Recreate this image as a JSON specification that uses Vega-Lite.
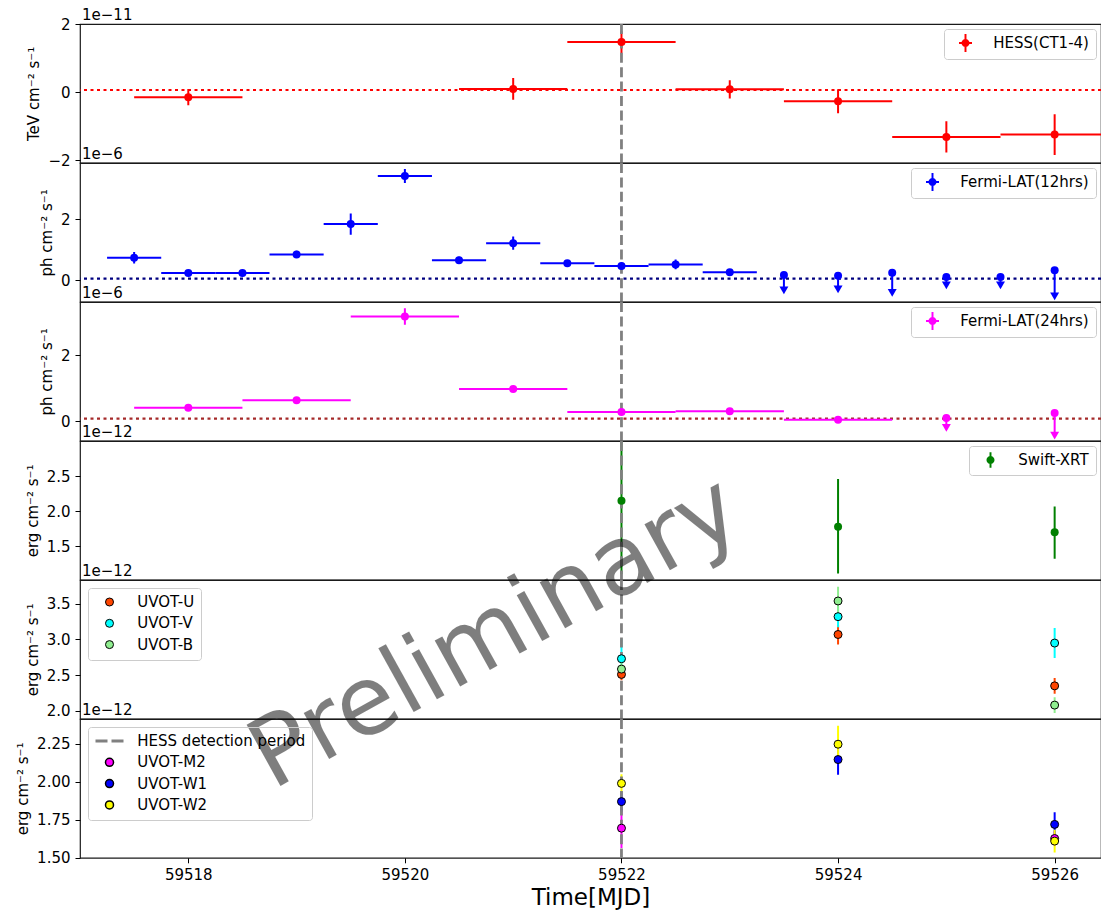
{
  "$schema": "https://vega.github.io/schema/vega-lite/v6.json",
  "padding": {"left": 15, "top": 7, "right": 0, "bottom": 4},
  "spacing": 0,
  "bounds": "flush",
  "config": {
    "font": "DejaVu Sans",
    "view": {"stroke": "#1a1a1a", "strokeWidth": 1.2},
    "axis": {"labelFontSize": 15, "labelColor": "black", "titleFontSize": 15, "titleFontWeight": "normal", "titleColor": "black", "tickColor": "black", "tickSize": 5, "tickWidth": 1, "labelPadding": 5, "titlePadding": 6, "grid": false, "domain": false, "labelFlush": false, "labelOverlap": false},
    "legend": {"labelFontSize": 15, "labelColor": "black", "padding": 6.5, "strokeColor": "#cccccc", "fillColor": "rgba(255,255,255,0.8)", "cornerRadius": 3, "symbolOffset": 7.5, "labelOffset": 20.3, "rowPadding": 5.3, "offset": 5, "labelLimit": 400}
  },
  "datasets": {
    "hess": [
      {"t": 59518, "t0": 59517.5, "t1": 59518.5, "v": -0.15, "lo": -0.39, "hi": 0.09},
      {"t": 59521, "t0": 59520.5, "t1": 59521.5, "v": 0.09, "lo": -0.23, "hi": 0.41},
      {"t": 59522, "t0": 59521.5, "t1": 59522.5, "v": 1.47, "lo": 1.15, "hi": 1.79},
      {"t": 59523, "t0": 59522.5, "t1": 59523.5, "v": 0.08, "lo": -0.19, "hi": 0.35},
      {"t": 59524, "t0": 59523.5, "t1": 59524.5, "v": -0.27, "lo": -0.62, "hi": 0.08},
      {"t": 59525, "t0": 59524.5, "t1": 59525.5, "v": -1.32, "lo": -1.78, "hi": -0.86},
      {"t": 59526, "t0": 59525.5, "t1": 59526.5, "v": -1.25, "lo": -1.85, "hi": -0.65}
    ],
    "lat12": [
      {"t": 59517.5, "t0": 59517.25, "t1": 59517.75, "v": 0.74, "lo": 0.55, "hi": 0.93},
      {"t": 59518, "t0": 59517.75, "t1": 59518.25, "v": 0.24, "lo": 0.17, "hi": 0.31},
      {"t": 59518.5, "t0": 59518.25, "t1": 59518.75, "v": 0.24, "lo": 0.17, "hi": 0.31},
      {"t": 59519, "t0": 59518.75, "t1": 59519.25, "v": 0.85, "lo": 0.73, "hi": 0.97},
      {"t": 59519.5, "t0": 59519.25, "t1": 59519.75, "v": 1.85, "lo": 1.5, "hi": 2.2},
      {"t": 59520, "t0": 59519.75, "t1": 59520.25, "v": 3.43, "lo": 3.2, "hi": 3.66},
      {"t": 59520.5, "t0": 59520.25, "t1": 59520.75, "v": 0.66, "lo": 0.55, "hi": 0.77},
      {"t": 59521, "t0": 59520.75, "t1": 59521.25, "v": 1.22, "lo": 1.0, "hi": 1.44},
      {"t": 59521.5, "t0": 59521.25, "t1": 59521.75, "v": 0.56, "lo": 0.45, "hi": 0.67},
      {"t": 59522, "t0": 59521.75, "t1": 59522.25, "v": 0.47, "lo": 0.36, "hi": 0.58},
      {"t": 59522.5, "t0": 59522.25, "t1": 59522.75, "v": 0.52, "lo": 0.36, "hi": 0.68},
      {"t": 59523, "t0": 59522.75, "t1": 59523.25, "v": 0.26, "lo": 0.18, "hi": 0.34}
    ],
    "lat12ul": [
      {"t": 59523.5, "v": 0.17, "lo": -0.33},
      {"t": 59524, "v": 0.15, "lo": -0.30},
      {"t": 59524.5, "v": 0.25, "lo": -0.42},
      {"t": 59525, "v": 0.11, "lo": -0.17},
      {"t": 59525.5, "v": 0.11, "lo": -0.17},
      {"t": 59526, "v": 0.33, "lo": -0.53}
    ],
    "lat24": [
      {"t": 59518, "t0": 59517.5, "t1": 59518.5, "v": 0.415, "lo": 0.35, "hi": 0.48},
      {"t": 59519, "t0": 59518.5, "t1": 59519.5, "v": 0.64, "lo": 0.57, "hi": 0.71},
      {"t": 59520, "t0": 59519.5, "t1": 59520.5, "v": 3.18, "lo": 2.93, "hi": 3.43},
      {"t": 59521, "t0": 59520.5, "t1": 59521.5, "v": 0.98, "lo": 0.92, "hi": 1.04},
      {"t": 59522, "t0": 59521.5, "t1": 59522.5, "v": 0.28, "lo": 0.2, "hi": 0.36},
      {"t": 59523, "t0": 59522.5, "t1": 59523.5, "v": 0.31, "lo": 0.25, "hi": 0.37},
      {"t": 59524, "t0": 59523.5, "t1": 59524.5, "v": 0.05, "lo": 0.0, "hi": 0.1}
    ],
    "lat24ul": [
      {"t": 59525, "v": 0.10, "lo": -0.20},
      {"t": 59526, "v": 0.25, "lo": -0.43}
    ],
    "xrt": [
      {"t": 59522, "v": 2.15, "lo": 1.1, "hi": 3.0},
      {"t": 59524, "v": 1.78, "lo": 1.11, "hi": 2.46},
      {"t": 59526, "v": 1.70, "lo": 1.32, "hi": 2.07}
    ],
    "uvopt": [
      {"band": "UVOT-U", "t": 59522, "v": 2.51, "lo": 2.43, "hi": 2.59},
      {"band": "UVOT-U", "t": 59524, "v": 3.07, "lo": 2.93, "hi": 3.21},
      {"band": "UVOT-U", "t": 59526, "v": 2.35, "lo": 2.24, "hi": 2.46},
      {"band": "UVOT-V", "t": 59522, "v": 2.73, "lo": 2.45, "hi": 3.01},
      {"band": "UVOT-V", "t": 59524, "v": 3.32, "lo": 3.17, "hi": 3.47},
      {"band": "UVOT-V", "t": 59526, "v": 2.95, "lo": 2.74, "hi": 3.16},
      {"band": "UVOT-B", "t": 59522, "v": 2.585, "lo": 2.49, "hi": 2.68},
      {"band": "UVOT-B", "t": 59524, "v": 3.54, "lo": 3.34, "hi": 3.74},
      {"band": "UVOT-B", "t": 59526, "v": 2.08, "lo": 1.97, "hi": 2.19}
    ],
    "uvuv": [
      {"band": "UVOT-M2", "t": 59522, "v": 1.695, "lo": 1.565, "hi": 1.825},
      {"band": "UVOT-M2", "t": 59526, "v": 1.627, "lo": 1.58, "hi": 1.675},
      {"band": "UVOT-W1", "t": 59522, "v": 1.87, "lo": 1.805, "hi": 1.935},
      {"band": "UVOT-W1", "t": 59524, "v": 2.147, "lo": 2.047, "hi": 2.247},
      {"band": "UVOT-W1", "t": 59526, "v": 1.72, "lo": 1.64, "hi": 1.80},
      {"band": "UVOT-W2", "t": 59522, "v": 1.99, "lo": 1.93, "hi": 2.05},
      {"band": "UVOT-W2", "t": 59524, "v": 2.248, "lo": 2.13, "hi": 2.37},
      {"band": "UVOT-W2", "t": 59526, "v": 1.61, "lo": 1.535, "hi": 1.685}
    ]
  },
  "vconcat": [
    {
      "width": 1021, "height": 138.8,
      "data": {"name": "hess"},
      "layer": [
        {"data": {"values": [{}]}, "mark": {"type": "rule", "color": "red", "strokeDash": [3, 3.5], "strokeWidth": 2.2},
         "encoding": {"y": {"datum": 0.06, "type": "quantitative", "scale": {"domain": [-2.08, 2.0], "nice": false, "zero": false}, "axis": {"values": [-2, 0, 2], "labelExpr": "replace(format(datum.value, 'd'), '-', '−')"}, "title": "TeV cm⁻² s⁻¹"}}},
        {"mark": {"type": "rule", "color": "red", "strokeWidth": 2, "clip": true},
         "encoding": {"x": {"field": "t0", "type": "quantitative", "scale": {"domain": [59517, 59526.428], "nice": false, "zero": false}, "axis": null},
                      "x2": {"field": "t1"},
                      "y": {"field": "v", "type": "quantitative", "scale": {"domain": [-2.08, 2.0], "nice": false, "zero": false}, "axis": {"values": [-2, 0, 2], "labelExpr": "replace(format(datum.value, 'd'), '-', '−')"}, "title": "TeV cm⁻² s⁻¹"}}},
        {"mark": {"type": "rule", "color": "red", "strokeWidth": 2, "clip": true},
         "encoding": {"x": {"field": "t", "type": "quantitative", "scale": {"domain": [59517, 59526.428], "nice": false, "zero": false}, "axis": null},
                      "y": {"field": "lo", "type": "quantitative", "scale": {"domain": [-2.08, 2.0], "nice": false, "zero": false}, "axis": {"values": [-2, 0, 2], "labelExpr": "replace(format(datum.value, 'd'), '-', '−')"}, "title": "TeV cm⁻² s⁻¹"},
                      "y2": {"field": "hi"}}},
        {"data": {"values": [{}]}, "mark": {"type": "rule", "color": "gray", "strokeDash": [10, 4.4], "strokeWidth": 2.8},
         "encoding": {"x": {"datum": 59522, "type": "quantitative", "scale": {"domain": [59517, 59526.428], "nice": false, "zero": false}, "axis": null}}},
        {"mark": {"type": "point", "filled": true, "size": 64, "opacity": 1},
         "encoding": {"x": {"field": "t", "type": "quantitative", "scale": {"domain": [59517, 59526.428], "nice": false, "zero": false}, "axis": null},
                      "y": {"field": "v", "type": "quantitative", "scale": {"domain": [-2.08, 2.0], "nice": false, "zero": false}, "axis": {"values": [-2, 0, 2], "labelExpr": "replace(format(datum.value, 'd'), '-', '−')"}, "title": "TeV cm⁻² s⁻¹"},
                      "fill": {"datum": "HESS(CT1-4)", "type": "nominal", "scale": {"domain": ["HESS(CT1-4)"], "range": ["red"]},
                               "legend": {"title": null, "orient": "top-right", "symbolType": "M-1,-0.15H1V0.15H-1Z M-0.15,-1.4H0.15V1.4H-0.15Z M0.62,0A0.62,0.62,0,1,1,-0.62,0A0.62,0.62,0,1,1,0.62,0Z", "symbolSize": 169, "symbolStrokeWidth": 0}}}},
        {"data": {"values": [{}]}, "mark": {"type": "text", "text": "1e−11", "align": "left", "baseline": "alphabetic", "dx": 2, "dy": -4, "fontSize": 15, "color": "black"},
         "encoding": {"x": {"datum": 59517, "type": "quantitative", "scale": {"domain": [59517, 59526.428], "nice": false, "zero": false}, "axis": null},
                      "y": {"datum": 2.0, "type": "quantitative", "scale": {"domain": [-2.08, 2.0], "nice": false, "zero": false}, "axis": {"values": [-2, 0, 2], "labelExpr": "replace(format(datum.value, 'd'), '-', '−')"}, "title": "TeV cm⁻² s⁻¹"}}}
      ]
    },
    {
      "width": 1021, "height": 138.8,
      "data": {"name": "lat12"},
      "layer": [
        {"data": {"values": [{}]}, "mark": {"type": "rule", "color": "navy", "strokeDash": [3, 3.5], "strokeWidth": 2.2},
         "encoding": {"y": {"datum": 0.056, "type": "quantitative", "scale": {"domain": [-0.71, 3.86], "nice": false, "zero": false}, "axis": {"values": [0, 2], "format": "d"}, "title": "ph cm⁻² s⁻¹"}}},
        {"mark": {"type": "rule", "color": "blue", "strokeWidth": 2, "clip": true},
         "encoding": {"x": {"field": "t0", "type": "quantitative", "scale": {"domain": [59517, 59526.428], "nice": false, "zero": false}, "axis": null},
                      "x2": {"field": "t1"},
                      "y": {"field": "v", "type": "quantitative", "scale": {"domain": [-0.71, 3.86], "nice": false, "zero": false}, "axis": {"values": [0, 2], "format": "d"}, "title": "ph cm⁻² s⁻¹"}}},
        {"mark": {"type": "rule", "color": "blue", "strokeWidth": 2, "clip": true},
         "encoding": {"x": {"field": "t", "type": "quantitative", "scale": {"domain": [59517, 59526.428], "nice": false, "zero": false}, "axis": null},
                      "y": {"field": "lo", "type": "quantitative", "scale": {"domain": [-0.71, 3.86], "nice": false, "zero": false}, "axis": {"values": [0, 2], "format": "d"}, "title": "ph cm⁻² s⁻¹"},
                      "y2": {"field": "hi"}}},
        {"data": {"name": "lat12ul"}, "mark": {"type": "rule", "color": "blue", "strokeWidth": 2, "clip": true},
         "encoding": {"x": {"field": "t", "type": "quantitative", "scale": {"domain": [59517, 59526.428], "nice": false, "zero": false}, "axis": null},
                      "y": {"field": "v", "type": "quantitative", "scale": {"domain": [-0.71, 3.86], "nice": false, "zero": false}, "axis": {"values": [0, 2], "format": "d"}, "title": "ph cm⁻² s⁻¹"},
                      "y2": {"field": "lo"}}},
        {"data": {"name": "lat12ul"}, "mark": {"type": "point", "shape": "triangle-down", "filled": true, "size": 80, "opacity": 1, "color": "blue"},
         "encoding": {"x": {"field": "t", "type": "quantitative", "scale": {"domain": [59517, 59526.428], "nice": false, "zero": false}, "axis": null},
                      "y": {"field": "lo", "type": "quantitative", "scale": {"domain": [-0.71, 3.86], "nice": false, "zero": false}, "axis": {"values": [0, 2], "format": "d"}, "title": "ph cm⁻² s⁻¹"}}},
        {"data": {"values": [{}]}, "mark": {"type": "rule", "color": "gray", "strokeDash": [10, 4.4], "strokeWidth": 2.8},
         "encoding": {"x": {"datum": 59522, "type": "quantitative", "scale": {"domain": [59517, 59526.428], "nice": false, "zero": false}, "axis": null}}},
        {"mark": {"type": "point", "filled": true, "size": 64, "opacity": 1},
         "encoding": {"x": {"field": "t", "type": "quantitative", "scale": {"domain": [59517, 59526.428], "nice": false, "zero": false}, "axis": null},
                      "y": {"field": "v", "type": "quantitative", "scale": {"domain": [-0.71, 3.86], "nice": false, "zero": false}, "axis": {"values": [0, 2], "format": "d"}, "title": "ph cm⁻² s⁻¹"},
                      "fill": {"datum": "Fermi-LAT(12hrs)", "type": "nominal", "scale": {"domain": ["Fermi-LAT(12hrs)"], "range": ["blue"]},
                               "legend": {"title": null, "orient": "top-right", "symbolType": "M-1,-0.15H1V0.15H-1Z M-0.15,-1.4H0.15V1.4H-0.15Z M0.62,0A0.62,0.62,0,1,1,-0.62,0A0.62,0.62,0,1,1,0.62,0Z", "symbolSize": 169, "symbolStrokeWidth": 0}}}},
        {"data": {"name": "lat12ul"}, "mark": {"type": "point", "filled": true, "size": 64, "opacity": 1, "color": "blue"},
         "encoding": {"x": {"field": "t", "type": "quantitative", "scale": {"domain": [59517, 59526.428], "nice": false, "zero": false}, "axis": null},
                      "y": {"field": "v", "type": "quantitative", "scale": {"domain": [-0.71, 3.86], "nice": false, "zero": false}, "axis": {"values": [0, 2], "format": "d"}, "title": "ph cm⁻² s⁻¹"}}},
        {"data": {"values": [{}]}, "mark": {"type": "text", "text": "1e−6", "align": "left", "baseline": "alphabetic", "dx": 2, "dy": -4, "fontSize": 15, "color": "black"},
         "encoding": {"x": {"datum": 59517, "type": "quantitative", "scale": {"domain": [59517, 59526.428], "nice": false, "zero": false}, "axis": null},
                      "y": {"datum": 3.86, "type": "quantitative", "scale": {"domain": [-0.71, 3.86], "nice": false, "zero": false}, "axis": {"values": [0, 2], "format": "d"}, "title": "ph cm⁻² s⁻¹"}}}
      ]
    },
    {
      "width": 1021, "height": 138.8,
      "data": {"name": "lat24"},
      "layer": [
        {"data": {"values": [{}]}, "mark": {"type": "rule", "color": "brown", "strokeDash": [3, 3.5], "strokeWidth": 2.2},
         "encoding": {"y": {"datum": 0.08, "type": "quantitative", "scale": {"domain": [-0.59, 3.62], "nice": false, "zero": false}, "axis": {"values": [0, 2], "format": "d"}, "title": "ph cm⁻² s⁻¹"}}},
        {"mark": {"type": "rule", "color": "magenta", "strokeWidth": 2, "clip": true},
         "encoding": {"x": {"field": "t0", "type": "quantitative", "scale": {"domain": [59517, 59526.428], "nice": false, "zero": false}, "axis": null},
                      "x2": {"field": "t1"},
                      "y": {"field": "v", "type": "quantitative", "scale": {"domain": [-0.59, 3.62], "nice": false, "zero": false}, "axis": {"values": [0, 2], "format": "d"}, "title": "ph cm⁻² s⁻¹"}}},
        {"mark": {"type": "rule", "color": "magenta", "strokeWidth": 2, "clip": true},
         "encoding": {"x": {"field": "t", "type": "quantitative", "scale": {"domain": [59517, 59526.428], "nice": false, "zero": false}, "axis": null},
                      "y": {"field": "lo", "type": "quantitative", "scale": {"domain": [-0.59, 3.62], "nice": false, "zero": false}, "axis": {"values": [0, 2], "format": "d"}, "title": "ph cm⁻² s⁻¹"},
                      "y2": {"field": "hi"}}},
        {"data": {"name": "lat24ul"}, "mark": {"type": "rule", "color": "magenta", "strokeWidth": 2, "clip": true},
         "encoding": {"x": {"field": "t", "type": "quantitative", "scale": {"domain": [59517, 59526.428], "nice": false, "zero": false}, "axis": null},
                      "y": {"field": "v", "type": "quantitative", "scale": {"domain": [-0.59, 3.62], "nice": false, "zero": false}, "axis": {"values": [0, 2], "format": "d"}, "title": "ph cm⁻² s⁻¹"},
                      "y2": {"field": "lo"}}},
        {"data": {"name": "lat24ul"}, "mark": {"type": "point", "shape": "triangle-down", "filled": true, "size": 80, "opacity": 1, "color": "magenta"},
         "encoding": {"x": {"field": "t", "type": "quantitative", "scale": {"domain": [59517, 59526.428], "nice": false, "zero": false}, "axis": null},
                      "y": {"field": "lo", "type": "quantitative", "scale": {"domain": [-0.59, 3.62], "nice": false, "zero": false}, "axis": {"values": [0, 2], "format": "d"}, "title": "ph cm⁻² s⁻¹"}}},
        {"data": {"values": [{}]}, "mark": {"type": "rule", "color": "gray", "strokeDash": [10, 4.4], "strokeWidth": 2.8},
         "encoding": {"x": {"datum": 59522, "type": "quantitative", "scale": {"domain": [59517, 59526.428], "nice": false, "zero": false}, "axis": null}}},
        {"mark": {"type": "point", "filled": true, "size": 64, "opacity": 1},
         "encoding": {"x": {"field": "t", "type": "quantitative", "scale": {"domain": [59517, 59526.428], "nice": false, "zero": false}, "axis": null},
                      "y": {"field": "v", "type": "quantitative", "scale": {"domain": [-0.59, 3.62], "nice": false, "zero": false}, "axis": {"values": [0, 2], "format": "d"}, "title": "ph cm⁻² s⁻¹"},
                      "fill": {"datum": "Fermi-LAT(24hrs)", "type": "nominal", "scale": {"domain": ["Fermi-LAT(24hrs)"], "range": ["magenta"]},
                               "legend": {"title": null, "orient": "top-right", "symbolType": "M-1,-0.15H1V0.15H-1Z M-0.15,-1.4H0.15V1.4H-0.15Z M0.62,0A0.62,0.62,0,1,1,-0.62,0A0.62,0.62,0,1,1,0.62,0Z", "symbolSize": 169, "symbolStrokeWidth": 0}}}},
        {"data": {"name": "lat24ul"}, "mark": {"type": "point", "filled": true, "size": 64, "opacity": 1, "color": "magenta"},
         "encoding": {"x": {"field": "t", "type": "quantitative", "scale": {"domain": [59517, 59526.428], "nice": false, "zero": false}, "axis": null},
                      "y": {"field": "v", "type": "quantitative", "scale": {"domain": [-0.59, 3.62], "nice": false, "zero": false}, "axis": {"values": [0, 2], "format": "d"}, "title": "ph cm⁻² s⁻¹"}}},
        {"data": {"values": [{}]}, "mark": {"type": "text", "text": "1e−6", "align": "left", "baseline": "alphabetic", "dx": 2, "dy": -4, "fontSize": 15, "color": "black"},
         "encoding": {"x": {"datum": 59517, "type": "quantitative", "scale": {"domain": [59517, 59526.428], "nice": false, "zero": false}, "axis": null},
                      "y": {"datum": 3.62, "type": "quantitative", "scale": {"domain": [-0.59, 3.62], "nice": false, "zero": false}, "axis": {"values": [0, 2], "format": "d"}, "title": "ph cm⁻² s⁻¹"}}}
      ]
    },
    {
      "width": 1021, "height": 138.8,
      "data": {"name": "xrt"},
      "layer": [
        {"mark": {"type": "rule", "color": "green", "strokeWidth": 2, "clip": true},
         "encoding": {"x": {"field": "t", "type": "quantitative", "scale": {"domain": [59517, 59526.428], "nice": false, "zero": false}, "axis": null},
                      "y": {"field": "lo", "type": "quantitative", "scale": {"domain": [1.021, 3.004], "nice": false, "zero": false}, "axis": {"values": [1.5, 2.0, 2.5], "format": ".1f"}, "title": "erg cm⁻² s⁻¹"},
                      "y2": {"field": "hi"}}},
        {"data": {"values": [{}]}, "mark": {"type": "rule", "color": "gray", "strokeDash": [10, 4.4], "strokeWidth": 2.8},
         "encoding": {"x": {"datum": 59522, "type": "quantitative", "scale": {"domain": [59517, 59526.428], "nice": false, "zero": false}, "axis": null}}},
        {"mark": {"type": "point", "filled": true, "size": 64, "opacity": 1},
         "encoding": {"x": {"field": "t", "type": "quantitative", "scale": {"domain": [59517, 59526.428], "nice": false, "zero": false}, "axis": null},
                      "y": {"field": "v", "type": "quantitative", "scale": {"domain": [1.021, 3.004], "nice": false, "zero": false}, "axis": {"values": [1.5, 2.0, 2.5], "format": ".1f"}, "title": "erg cm⁻² s⁻¹"},
                      "fill": {"datum": "Swift-XRT", "type": "nominal", "scale": {"domain": ["Swift-XRT"], "range": ["green"]},
                               "legend": {"title": null, "orient": "top-right", "symbolType": "M-0.15,-1.2H0.15V1.2H-0.15Z M0.62,0A0.62,0.62,0,1,1,-0.62,0A0.62,0.62,0,1,1,0.62,0Z", "symbolSize": 169, "symbolStrokeWidth": 0}}}},
        {"data": {"values": [{}]}, "mark": {"type": "text", "text": "1e−12", "align": "left", "baseline": "alphabetic", "dx": 2, "dy": -4, "fontSize": 15, "color": "black"},
         "encoding": {"x": {"datum": 59517, "type": "quantitative", "scale": {"domain": [59517, 59526.428], "nice": false, "zero": false}, "axis": null},
                      "y": {"datum": 3.004, "type": "quantitative", "scale": {"domain": [1.021, 3.004], "nice": false, "zero": false}, "axis": {"values": [1.5, 2.0, 2.5], "format": ".1f"}, "title": "erg cm⁻² s⁻¹"}}}
      ]
    },
    {
      "width": 1021, "height": 138.8,
      "data": {"name": "uvopt"},
      "layer": [
        {"transform": [{"filter": "datum.band === 'UVOT-U'"}], "mark": {"type": "rule", "color": "orangered", "strokeWidth": 2, "clip": true},
         "encoding": {"x": {"field": "t", "type": "quantitative", "scale": {"domain": [59517, 59526.428], "nice": false, "zero": false}, "axis": null},
                      "y": {"field": "lo", "type": "quantitative", "scale": {"domain": [1.888, 3.834], "nice": false, "zero": false}, "axis": {"values": [2.0, 2.5, 3.0, 3.5], "format": ".1f"}, "title": "erg cm⁻² s⁻¹"},
                      "y2": {"field": "hi"}}},
        {"transform": [{"filter": "datum.band === 'UVOT-V'"}], "mark": {"type": "rule", "color": "cyan", "strokeWidth": 2, "clip": true},
         "encoding": {"x": {"field": "t", "type": "quantitative", "scale": {"domain": [59517, 59526.428], "nice": false, "zero": false}, "axis": null},
                      "y": {"field": "lo", "type": "quantitative", "scale": {"domain": [1.888, 3.834], "nice": false, "zero": false}, "axis": {"values": [2.0, 2.5, 3.0, 3.5], "format": ".1f"}, "title": "erg cm⁻² s⁻¹"},
                      "y2": {"field": "hi"}}},
        {"transform": [{"filter": "datum.band === 'UVOT-B'"}], "mark": {"type": "rule", "color": "lightgreen", "strokeWidth": 2, "clip": true},
         "encoding": {"x": {"field": "t", "type": "quantitative", "scale": {"domain": [59517, 59526.428], "nice": false, "zero": false}, "axis": null},
                      "y": {"field": "lo", "type": "quantitative", "scale": {"domain": [1.888, 3.834], "nice": false, "zero": false}, "axis": {"values": [2.0, 2.5, 3.0, 3.5], "format": ".1f"}, "title": "erg cm⁻² s⁻¹"},
                      "y2": {"field": "hi"}}},
        {"data": {"values": [{}]}, "mark": {"type": "rule", "color": "gray", "strokeDash": [10, 4.4], "strokeWidth": 2.8},
         "encoding": {"x": {"datum": 59522, "type": "quantitative", "scale": {"domain": [59517, 59526.428], "nice": false, "zero": false}, "axis": null}}},
        {"mark": {"type": "point", "filled": true, "size": 64, "opacity": 1, "stroke": "black", "strokeWidth": 1},
         "encoding": {"x": {"field": "t", "type": "quantitative", "scale": {"domain": [59517, 59526.428], "nice": false, "zero": false}, "axis": null},
                      "y": {"field": "v", "type": "quantitative", "scale": {"domain": [1.888, 3.834], "nice": false, "zero": false}, "axis": {"values": [2.0, 2.5, 3.0, 3.5], "format": ".1f"}, "title": "erg cm⁻² s⁻¹"},
                      "fill": {"field": "band", "type": "nominal", "scale": {"domain": ["UVOT-U", "UVOT-V", "UVOT-B"], "range": ["orangered", "cyan", "lightgreen"]},
                               "legend": {"title": null, "orient": "top-left", "offset": 7.5, "symbolType": "circle", "symbolSize": 64, "symbolStrokeColor": "black", "symbolStrokeWidth": 1}}}},
        {"data": {"values": [{}]}, "mark": {"type": "text", "text": "1e−12", "align": "left", "baseline": "alphabetic", "dx": 2, "dy": -4, "fontSize": 15, "color": "black"},
         "encoding": {"x": {"datum": 59517, "type": "quantitative", "scale": {"domain": [59517, 59526.428], "nice": false, "zero": false}, "axis": null},
                      "y": {"datum": 3.834, "type": "quantitative", "scale": {"domain": [1.888, 3.834], "nice": false, "zero": false}, "axis": {"values": [2.0, 2.5, 3.0, 3.5], "format": ".1f"}, "title": "erg cm⁻² s⁻¹"}}}
      ]
    },
    {
      "width": 1021, "height": 138.8,
      "data": {"name": "uvuv"},
      "layer": [
        {"transform": [{"filter": "datum.band === 'UVOT-M2'"}], "mark": {"type": "rule", "color": "magenta", "strokeWidth": 2, "clip": true},
         "encoding": {"x": {"field": "t", "type": "quantitative", "scale": {"domain": [59517, 59526.428], "nice": false, "zero": false}, "axis": {"values": [59518, 59520, 59522, 59524, 59526], "format": "d", "titleFontSize": 23, "titlePadding": 4}, "title": "Time[MJD]"},
                      "y": {"field": "lo", "type": "quantitative", "scale": {"domain": [1.5, 2.414], "nice": false, "zero": false}, "axis": {"values": [1.5, 1.75, 2.0, 2.25], "format": ".2f"}, "title": "erg cm⁻² s⁻¹"},
                      "y2": {"field": "hi"}}},
        {"transform": [{"filter": "datum.band === 'UVOT-W1'"}], "mark": {"type": "rule", "color": "blue", "strokeWidth": 2, "clip": true},
         "encoding": {"x": {"field": "t", "type": "quantitative", "scale": {"domain": [59517, 59526.428], "nice": false, "zero": false}, "axis": {"values": [59518, 59520, 59522, 59524, 59526], "format": "d", "titleFontSize": 23, "titlePadding": 4}, "title": "Time[MJD]"},
                      "y": {"field": "lo", "type": "quantitative", "scale": {"domain": [1.5, 2.414], "nice": false, "zero": false}, "axis": {"values": [1.5, 1.75, 2.0, 2.25], "format": ".2f"}, "title": "erg cm⁻² s⁻¹"},
                      "y2": {"field": "hi"}}},
        {"transform": [{"filter": "datum.band === 'UVOT-W2'"}], "mark": {"type": "rule", "color": "yellow", "strokeWidth": 2, "clip": true},
         "encoding": {"x": {"field": "t", "type": "quantitative", "scale": {"domain": [59517, 59526.428], "nice": false, "zero": false}, "axis": {"values": [59518, 59520, 59522, 59524, 59526], "format": "d", "titleFontSize": 23, "titlePadding": 4}, "title": "Time[MJD]"},
                      "y": {"field": "lo", "type": "quantitative", "scale": {"domain": [1.5, 2.414], "nice": false, "zero": false}, "axis": {"values": [1.5, 1.75, 2.0, 2.25], "format": ".2f"}, "title": "erg cm⁻² s⁻¹"},
                      "y2": {"field": "hi"}}},
        {"data": {"values": [{}]}, "mark": {"type": "rule", "color": "gray", "strokeDash": [10, 4.4], "strokeWidth": 2.8},
         "encoding": {"x": {"datum": 59522, "type": "quantitative", "scale": {"domain": [59517, 59526.428], "nice": false, "zero": false}, "axis": {"values": [59518, 59520, 59522, 59524, 59526], "format": "d", "titleFontSize": 23, "titlePadding": 4}, "title": "Time[MJD]"}}},
        {"mark": {"type": "point", "filled": true, "size": 64, "opacity": 1, "strokeWidth": 1},
         "encoding": {"x": {"field": "t", "type": "quantitative", "scale": {"domain": [59517, 59526.428], "nice": false, "zero": false}, "axis": {"values": [59518, 59520, 59522, 59524, 59526], "format": "d", "titleFontSize": 23, "titlePadding": 4}, "title": "Time[MJD]"},
                      "y": {"field": "v", "type": "quantitative", "scale": {"domain": [1.5, 2.414], "nice": false, "zero": false}, "axis": {"values": [1.5, 1.75, 2.0, 2.25], "format": ".2f"}, "title": "erg cm⁻² s⁻¹"},
                      "fill": {"field": "band", "type": "nominal", "scale": {"domain": ["HESS detection period", "UVOT-M2", "UVOT-W1", "UVOT-W2"], "range": ["gray", "magenta", "blue", "yellow"]},
                               "legend": {"title": null, "orient": "top-left", "offset": 7.5, "fillColor": "rgba(255,255,255,0)", "symbolSize": 64}},
                      "shape": {"field": "band", "type": "nominal", "scale": {"domain": ["HESS detection period", "UVOT-M2", "UVOT-W1", "UVOT-W2"], "range": ["M-3.5,-0.35H-0.5V0.35H-3.5Z M0.5,-0.35H3.5V0.35H0.5Z", "circle", "circle", "circle"]},
                               "legend": {"title": null, "orient": "top-left", "offset": 7.5, "fillColor": "rgba(255,255,255,0)", "symbolSize": 64}},
                      "stroke": {"field": "band", "type": "nominal", "scale": {"domain": ["HESS detection period", "UVOT-M2", "UVOT-W1", "UVOT-W2"], "range": ["transparent", "black", "black", "black"]},
                               "legend": {"title": null, "orient": "top-left", "offset": 7.5, "fillColor": "rgba(255,255,255,0)", "symbolSize": 64}}}},
        {"data": {"values": [{}]}, "mark": {"type": "text", "text": "1e−12", "align": "left", "baseline": "alphabetic", "dx": 2, "dy": -4, "fontSize": 15, "color": "black"},
         "encoding": {"x": {"datum": 59517, "type": "quantitative", "scale": {"domain": [59517, 59526.428], "nice": false, "zero": false}, "axis": {"values": [59518, 59520, 59522, 59524, 59526], "format": "d", "titleFontSize": 23, "titlePadding": 4}, "title": "Time[MJD]"},
                      "y": {"datum": 2.414, "type": "quantitative", "scale": {"domain": [1.5, 2.414], "nice": false, "zero": false}, "axis": {"values": [1.5, 1.75, 2.0, 2.25], "format": ".2f"}, "title": "erg cm⁻² s⁻¹"}}},
        {"data": {"values": [{}]}, "mark": {"type": "text", "text": "Preliminary", "angle": -29, "fontSize": 96, "color": "black", "opacity": 0.5, "align": "center", "baseline": "middle"},
         "encoding": {"x": {"datum": 59520.835, "type": "quantitative", "scale": {"domain": [59517, 59526.428], "nice": false, "zero": false}, "axis": {"values": [59518, 59520, 59522, 59524, 59526], "format": "d", "titleFontSize": 23, "titlePadding": 4}, "title": "Time[MJD]"},
                      "y": {"datum": 2.975, "type": "quantitative", "scale": {"domain": [1.5, 2.414], "nice": false, "zero": false}, "axis": {"values": [1.5, 1.75, 2.0, 2.25], "format": ".2f"}, "title": "erg cm⁻² s⁻¹"}}}
      ]
    }
  ],
  "resolve": {"scale": {"x": "independent", "y": "independent", "fill": "independent", "shape": "independent", "stroke": "independent"}, "legend": {"fill": "independent", "shape": "independent", "stroke": "independent"}}
}
